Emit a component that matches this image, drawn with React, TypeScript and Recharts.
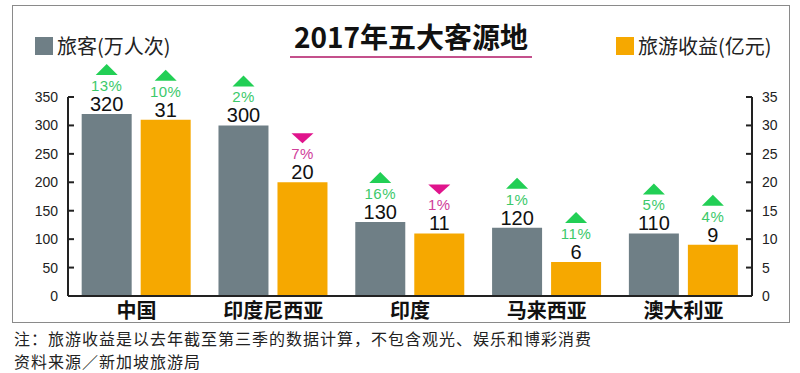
import { Bar, BarChart, LabelList, XAxis, YAxis } from "recharts";

const categories = ["中国", "印度尼西亚", "印度", "马来西亚", "澳大利亚"];
const visitors = [320, 300, 130, 120, 110];
const revenue = [31, 20, 11, 6, 9];
const visitorChange = [13, 2, 16, 1, 5];
const revenueChange = [10, -7, -1, 11, 4];
const leftTicks = [0, 50, 100, 150, 200, 250, 300, 350];
const rightTicks = [0, 5, 10, 15, 20, 25, 30, 35];

const data = categories.map((name, i) => ({
  name,
  visitors: visitors[i],
  revenue: revenue[i],
}));

const FONT = "'Liberation Sans', 'Noto Sans CJK SC', sans-serif";
const CJK = "'Noto Sans CJK SC', sans-serif";
const GRAY = "#6f7f86";
const ORANGE = "#f6a800";
const GREEN = "#22cf55";
const PINK = "#e0148c";

const makeLabel = (changes: number[]) => (props: any) => {
  const { x, y, width, value, index } = props;
  const cx = Number(x) + Number(width) / 2;
  const top = Number(y);
  const ch = changes[index];
  const up = ch >= 0;
  const color = up ? GREEN : PINK;
  const tri = up
    ? `${cx - 11},${top - 39} ${cx + 11},${top - 39} ${cx},${top - 50}`
    : `${cx - 11},${top - 49} ${cx + 11},${top - 49} ${cx},${top - 39}`;
  return (
    <g>
      <polygon points={tri} fill={color} />
      <text
        x={cx}
        y={top - 23}
        textAnchor="middle"
        fill={up ? "#3cc96a" : "#d0409a"}
        fontSize={15}
        fontFamily={FONT}
        letterSpacing={0.5}
      >
        {Math.abs(ch)}%
      </text>
      <text
        x={cx}
        y={top - 3}
        textAnchor="middle"
        fill="#111"
        fontSize={20}
        fontFamily={FONT}
      >
        {value}
      </text>
    </g>
  );
};

const LeftTick = (props: any) => {
  const { x, y, payload } = props;
  return (
    <g>
      <line x1={x + 8} x2={x + 14} y1={y} y2={y} stroke="#222" strokeWidth={2} />
      <text x={x - 2} y={y + 5} textAnchor="end" fontSize={14} fill="#222" fontFamily={FONT}>
        {payload.value}
      </text>
    </g>
  );
};

const RightTick = (props: any) => {
  const { x, y, payload } = props;
  return (
    <g>
      <line x1={x - 8} x2={x - 14} y1={y} y2={y} stroke="#222" strokeWidth={2} />
      <text x={x + 2} y={y + 5} textAnchor="start" fontSize={14} fill="#222" fontFamily={FONT}>
        {payload.value}
      </text>
    </g>
  );
};

export default function App() {
  return (
    <div style={{ position: "absolute", left: 0, top: 0, width: 800, height: 373, background: "#fff" }}>
      <div
        style={{
          position: "absolute",
          left: 12,
          top: 5,
          width: 776,
          height: 316,
          border: "1.5px solid #8a8a8a",
        }}
      />
      <BarChart
        width={800}
        height={373}
        data={data}
        margin={{ top: 97, right: 8, bottom: 47, left: 18 }}
        barCategoryGap="10%"
        barGap={9}
      >
        <XAxis
          dataKey="name"
          height={30}
          tickLine={false}
          axisLine={{ stroke: "#222", strokeWidth: 2 }}
          tick={{ fontSize: 20, fill: "#111", fontFamily: CJK, fontWeight: 600 }}
          tickMargin={2}
          interval={0}
        />
        <YAxis
          yAxisId="left"
          width={50}
          domain={[0, 350]}
          ticks={leftTicks}
          interval={0}
          tickSize={0}
          tickMargin={8}
          tickLine={false}
          axisLine={{ stroke: "#222", strokeWidth: 2 }}
          tick={<LeftTick />}
          allowDataOverflow
        />
        <YAxis
          yAxisId="right"
          orientation="right"
          width={40}
          domain={[0, 35]}
          ticks={rightTicks}
          interval={0}
          tickSize={0}
          tickMargin={8}
          tickLine={false}
          axisLine={{ stroke: "#222", strokeWidth: 2 }}
          tick={<RightTick />}
          allowDataOverflow
        />
        <Bar yAxisId="left" dataKey="visitors" fill={GRAY} isAnimationActive={false}>
          <LabelList dataKey="visitors" content={makeLabel(visitorChange)} />
        </Bar>
        <Bar yAxisId="right" dataKey="revenue" fill={ORANGE} isAnimationActive={false}>
          <LabelList dataKey="revenue" content={makeLabel(revenueChange)} />
        </Bar>
      </BarChart>

      {/* legends and title */}
      <div style={{ position: "absolute", left: 35, top: 31, display: "flex", alignItems: "center", fontFamily: CJK, fontSize: 20, color: "#222" }}>
        <span style={{ display: "inline-block", width: 18, height: 18, background: GRAY, marginRight: 4 }} />
        旅客(万人次)
      </div>
      <div style={{ position: "absolute", left: 616, top: 31, display: "flex", alignItems: "center", fontFamily: CJK, fontSize: 20, color: "#222" }}>
        <span style={{ display: "inline-block", width: 18, height: 18, background: ORANGE, marginRight: 4 }} />
        旅游收益(亿元)
      </div>
      <div
        style={{
          position: "absolute",
          left: 290,
          top: 18,
          width: 242,
          textAlign: "center",
          fontFamily: CJK,
          fontWeight: 700,
          fontSize: 28,
          color: "#111",
          borderBottom: "2.5px solid #c4508c",
          lineHeight: "36px",
          paddingBottom: 2,
        }}
      >
        2017年五大客源地
      </div>

      {/* footnote */}
      <div style={{ position: "absolute", left: 14, top: 327, fontFamily: CJK, fontSize: 16, letterSpacing: 1, lineHeight: "23px", color: "#222" }}>
        <div>注：旅游收益是以去年截至第三季的数据计算，不包含观光、娱乐和博彩消费</div>
        <div>资料来源／新加坡旅游局</div>
      </div>
    </div>
  );
}
